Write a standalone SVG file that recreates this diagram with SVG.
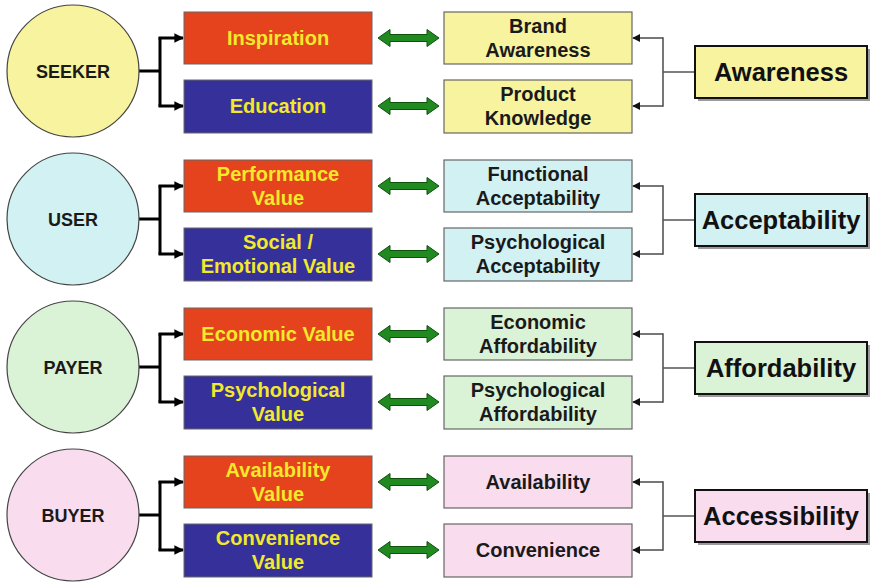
<svg xmlns="http://www.w3.org/2000/svg" width="870" height="582" viewBox="0 0 870 582">
  <style>
    text { font-family: "Liberation Sans", Arial, sans-serif; font-weight: bold; text-anchor: middle; }
    .role { font-size: 18px; fill: #1a1a1a; }
    .val { font-size: 20px; fill: #f2e92a; }
    .dim { font-size: 20px; fill: #1a1a1a; }
    .big { font-size: 25.5px; fill: #111; }
    .circ { stroke: #444; stroke-width: 1.2; }
    .red { fill: #e5421e; stroke: #666; stroke-width: 1; }
    .blue { fill: #35309a; stroke: #666; stroke-width: 1; }
    .rbox { stroke: #666; stroke-width: 1.2; }
    .lbl { stroke: #111; stroke-width: 2; }
    .shadow { fill: #9a9a9a; }
    .fork { fill: none; stroke: #000; stroke-width: 3; }
    .tie { fill: none; stroke: #555; stroke-width: 1.6; }
    .y1 { fill: #f7f39f; } .c1 { fill: #d2f1f2; } .g1 { fill: #daf2d6; } .p1 { fill: #f9ddee; }
  </style>
  <defs>
    <marker id="blk" viewBox="0 0 10 10" refX="9" refY="5" markerWidth="3.2" markerHeight="3.6" orient="auto" markerUnits="strokeWidth">
      <path d="M0,0 L10,5 L0,10 z" fill="#000"/>
    </marker>
    <marker id="thin" viewBox="0 0 10 10" refX="9" refY="5" markerWidth="5" markerHeight="5.5" orient="auto" markerUnits="strokeWidth">
      <path d="M0,0 L10,5 L0,10 z" fill="#111"/>
    </marker>
    <path id="dbl" d="M378,0 L390,-8.5 L390,-3.5 L427,-3.5 L427,-8.5 L439,0 L427,8.5 L427,3.5 L390,3.5 L390,8.5 Z" fill="#208a20" stroke="#0d520d" stroke-width="1"/>
  </defs>

  <!-- connectors: role forks, double arrows, dimension ties -->
  <g id="connectors">
    <g transform="translate(0,0)">
      <path class="fork" d="M138,71 H160 M160,37.5 V106.5"/>
      <path class="fork" d="M158.5,38 H183" marker-end="url(#blk)"/>
      <path class="fork" d="M158.5,106 H183" marker-end="url(#blk)"/>
      <use href="#dbl" y="38"/><use href="#dbl" y="106"/>
      <path class="tie" d="M695,72 H663 M663,37.2 V106.8"/>
      <path class="tie" d="M663,38 H633" marker-end="url(#thin)"/>
      <path class="tie" d="M663,106 H633" marker-end="url(#thin)"/>
    </g>
    <g transform="translate(0,148)">
      <path class="fork" d="M138,71 H160 M160,37.5 V106.5"/>
      <path class="fork" d="M158.5,38 H183" marker-end="url(#blk)"/>
      <path class="fork" d="M158.5,106 H183" marker-end="url(#blk)"/>
      <use href="#dbl" y="38"/><use href="#dbl" y="106"/>
      <path class="tie" d="M695,72 H663 M663,37.2 V106.8"/>
      <path class="tie" d="M663,38 H633" marker-end="url(#thin)"/>
      <path class="tie" d="M663,106 H633" marker-end="url(#thin)"/>
    </g>
    <g transform="translate(0,296)">
      <path class="fork" d="M138,71 H160 M160,37.5 V106.5"/>
      <path class="fork" d="M158.5,38 H183" marker-end="url(#blk)"/>
      <path class="fork" d="M158.5,106 H183" marker-end="url(#blk)"/>
      <use href="#dbl" y="38"/><use href="#dbl" y="106"/>
      <path class="tie" d="M695,72 H663 M663,37.2 V106.8"/>
      <path class="tie" d="M663,38 H633" marker-end="url(#thin)"/>
      <path class="tie" d="M663,106 H633" marker-end="url(#thin)"/>
    </g>
    <g transform="translate(0,444)">
      <path class="fork" d="M138,71 H160 M160,37.5 V106.5"/>
      <path class="fork" d="M158.5,38 H183" marker-end="url(#blk)"/>
      <path class="fork" d="M158.5,106 H183" marker-end="url(#blk)"/>
      <use href="#dbl" y="38"/><use href="#dbl" y="106"/>
      <path class="tie" d="M695,72 H663 M663,37.2 V106.8"/>
      <path class="tie" d="M663,38 H633" marker-end="url(#thin)"/>
      <path class="tie" d="M663,106 H633" marker-end="url(#thin)"/>
    </g>
  </g>

  <!-- row 1: seeker -->
  <g id="seeker"><circle class="circ y1" cx="73" cy="71" r="66"/><text class="role" x="73" y="78">SEEKER</text></g>
  <g id="inspiration"><rect class="red" x="184" y="12" width="188" height="52"/><text class="val" x="278" y="45">Inspiration</text></g>
  <g id="education"><rect class="blue" x="184" y="80" width="188" height="53"/><text class="val" x="278" y="113">Education</text></g>
  <g id="brand-awareness"><rect class="rbox y1" x="444" y="12" width="188" height="52"/><text class="dim" x="538" y="33">Brand</text><text class="dim" x="538" y="57">Awareness</text></g>
  <g id="product-knowledge"><rect class="rbox y1" x="444" y="80" width="188" height="53"/><text class="dim" x="538" y="101">Product</text><text class="dim" x="538" y="125">Knowledge</text></g>
  <g id="awareness"><rect class="shadow" x="698" y="49" width="172" height="52"/><rect class="lbl y1" x="695" y="46" width="172" height="52"/><text class="big" x="781" y="81">Awareness</text></g>

  <!-- row 2: user -->
  <g id="user"><circle class="circ c1" cx="73" cy="219" r="66"/><text class="role" x="73" y="226">USER</text></g>
  <g id="performance-value"><rect class="red" x="184" y="160" width="188" height="52"/><text class="val" x="278" y="181">Performance</text><text class="val" x="278" y="205">Value</text></g>
  <g id="social-emotional-value"><rect class="blue" x="184" y="228" width="188" height="53"/><text class="val" x="278" y="249">Social /</text><text class="val" x="278" y="273">Emotional Value</text></g>
  <g id="functional-acceptability"><rect class="rbox c1" x="444" y="160" width="188" height="52"/><text class="dim" x="538" y="181">Functional</text><text class="dim" x="538" y="205">Acceptability</text></g>
  <g id="psychological-acceptability"><rect class="rbox c1" x="444" y="228" width="188" height="53"/><text class="dim" x="538" y="249">Psychological</text><text class="dim" x="538" y="273">Acceptability</text></g>
  <g id="acceptability"><rect class="shadow" x="698" y="197" width="172" height="52"/><rect class="lbl c1" x="695" y="194" width="172" height="52"/><text class="big" x="781" y="229">Acceptability</text></g>

  <!-- row 3: payer -->
  <g id="payer"><circle class="circ g1" cx="73" cy="367" r="66"/><text class="role" x="73" y="374">PAYER</text></g>
  <g id="economic-value"><rect class="red" x="184" y="308" width="188" height="52"/><text class="val" x="278" y="341">Economic Value</text></g>
  <g id="psychological-value"><rect class="blue" x="184" y="376" width="188" height="53"/><text class="val" x="278" y="397">Psychological</text><text class="val" x="278" y="421">Value</text></g>
  <g id="economic-affordability"><rect class="rbox g1" x="444" y="308" width="188" height="52"/><text class="dim" x="538" y="329">Economic</text><text class="dim" x="538" y="353">Affordability</text></g>
  <g id="psychological-affordability"><rect class="rbox g1" x="444" y="376" width="188" height="53"/><text class="dim" x="538" y="397">Psychological</text><text class="dim" x="538" y="421">Affordability</text></g>
  <g id="affordability"><rect class="shadow" x="698" y="345" width="172" height="52"/><rect class="lbl g1" x="695" y="342" width="172" height="52"/><text class="big" x="781" y="377">Affordability</text></g>

  <!-- row 4: buyer -->
  <g id="buyer"><circle class="circ p1" cx="73" cy="515" r="66"/><text class="role" x="73" y="522">BUYER</text></g>
  <g id="availability-value"><rect class="red" x="184" y="456" width="188" height="52"/><text class="val" x="278" y="477">Availability</text><text class="val" x="278" y="501">Value</text></g>
  <g id="convenience-value"><rect class="blue" x="184" y="524" width="188" height="53"/><text class="val" x="278" y="545">Convenience</text><text class="val" x="278" y="569">Value</text></g>
  <g id="availability"><rect class="rbox p1" x="444" y="456" width="188" height="52"/><text class="dim" x="538" y="489">Availability</text></g>
  <g id="convenience"><rect class="rbox p1" x="444" y="524" width="188" height="53"/><text class="dim" x="538" y="557">Convenience</text></g>
  <g id="accessibility"><rect class="shadow" x="698" y="493" width="172" height="52"/><rect class="lbl p1" x="695" y="490" width="172" height="52"/><text class="big" x="781" y="525">Accessibility</text></g>
</svg>
